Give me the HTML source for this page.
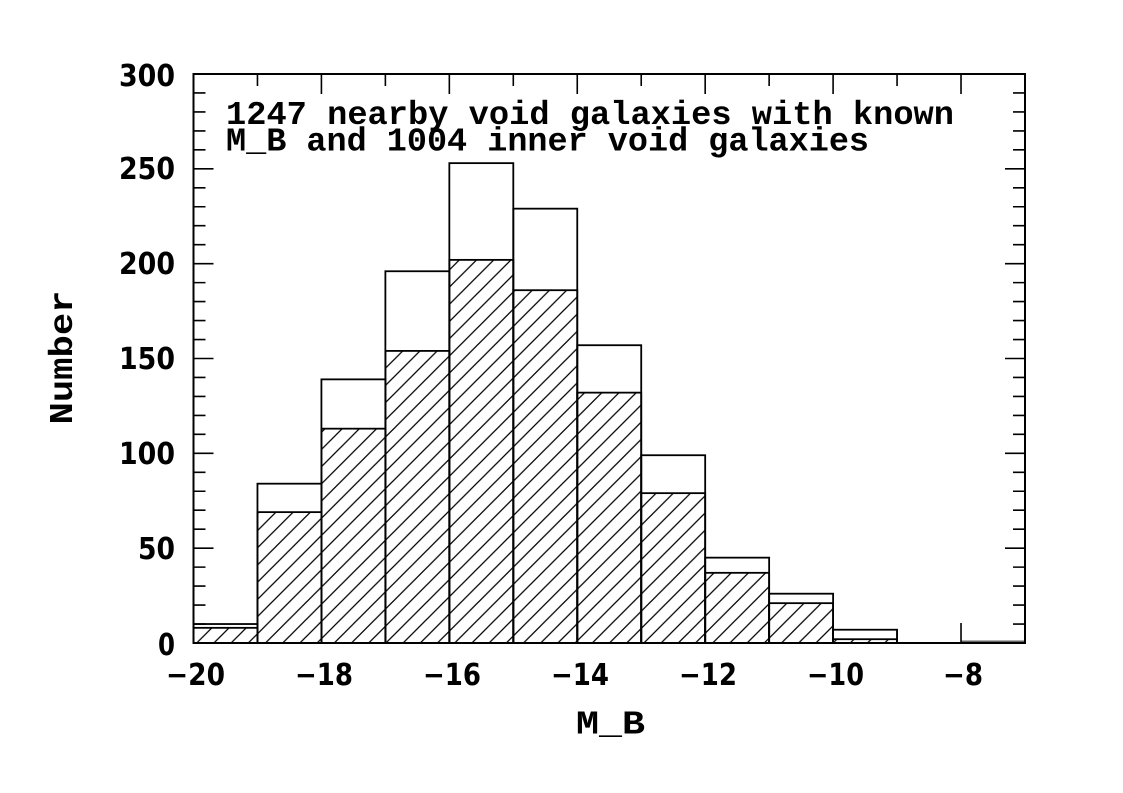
<!DOCTYPE html>
<html><head><meta charset="utf-8"><style>
html,body{margin:0;padding:0;background:#fff;}
svg{display:block;}
</style></head><body>
<svg width="1123" height="793" viewBox="0 0 1123 793" xmlns="http://www.w3.org/2000/svg">
<defs>
<pattern id="h" patternUnits="userSpaceOnUse" x="14.1" y="0" width="17.2" height="17.2">
<path d="M0,17.2 L17.2,0 M-4,4 L4,-4 M13.2,21.2 L21.2,13.2" stroke="#000" stroke-width="1.3" fill="none"/>
</pattern>
</defs>
<rect width="1123" height="793" fill="#fff"/>
<g stroke="#000" stroke-width="1.8" fill="none">
<rect x="193.5" y="624.03" width="63.96" height="18.97"/>
<rect x="257.46" y="483.68" width="63.96" height="159.32"/>
<rect x="321.42" y="379.36" width="63.96" height="263.64"/>
<rect x="385.38" y="271.25" width="63.96" height="371.75"/>
<rect x="449.34" y="163.14" width="63.96" height="479.86"/>
<rect x="513.3" y="208.66" width="63.96" height="434.34"/>
<rect x="577.26" y="345.22" width="63.96" height="297.78"/>
<rect x="641.22" y="455.23" width="63.96" height="187.77"/>
<rect x="705.18" y="557.65" width="63.96" height="85.35"/>
<rect x="769.14" y="593.69" width="63.96" height="49.31"/>
<rect x="833.1" y="629.72" width="63.96" height="13.28"/>
</g>
<g stroke="#000" stroke-width="1.8" fill="url(#h)">
<rect x="193.5" y="627.83" width="63.96" height="15.17"/>
<rect x="257.46" y="512.13" width="63.96" height="130.87"/>
<rect x="321.42" y="428.67" width="63.96" height="214.33"/>
<rect x="385.38" y="350.91" width="63.96" height="292.09"/>
<rect x="449.34" y="259.87" width="63.96" height="383.13"/>
<rect x="513.3" y="290.21" width="63.96" height="352.79"/>
<rect x="577.26" y="392.64" width="63.96" height="250.36"/>
<rect x="641.22" y="493.16" width="63.96" height="149.84"/>
<rect x="705.18" y="572.82" width="63.96" height="70.18"/>
<rect x="769.14" y="603.17" width="63.96" height="39.83"/>
<rect x="833.1" y="639.21" width="63.96" height="3.79"/>
</g>
<rect x="961.02" y="640.5" width="63.96" height="2" fill="#666"/>
<!-- frame -->
<rect x="193.5" y="74" width="831.5" height="569" fill="none" stroke="#000" stroke-width="2"/>
<!-- ticks -->
<g stroke="#000" stroke-width="1.6" fill="none">
<path d="M321.42,643V623 M449.34,643V623 M577.26,643V623 M705.18,643V623 M833.1,643V623 M961.02,643V623
M257.46,643V631 M385.38,643V631 M513.3,643V631 M641.22,643V631 M769.14,643V631 M897.06,643V631
M321.42,74V94 M449.34,74V94 M577.26,74V94 M705.18,74V94 M833.1,74V94 M961.02,74V94
M257.46,74V86 M385.38,74V86 M513.3,74V86 M641.22,74V86 M769.14,74V86 M897.06,74V86"/>
<path d="M193.5,548.17H213.5 M193.5,453.33H213.5 M193.5,358.5H213.5 M193.5,263.67H213.5 M193.5,168.83H213.5
M1025,548.17H1005 M1025,453.33H1005 M1025,358.5H1005 M1025,263.67H1005 M1025,168.83H1005"/>
<path d="M193.5,624.03h12 M193.5,605.07h12 M193.5,586.1h12 M193.5,567.13h12 M193.5,529.2h12 M193.5,510.23h12 M193.5,491.26h12 M193.5,472.3h12 M193.5,434.36h12 M193.5,415.4h12 M193.5,396.43h12 M193.5,377.46h12 M193.5,339.53h12 M193.5,320.56h12 M193.5,301.59h12 M193.5,282.63h12 M193.5,244.69h12 M193.5,225.73h12 M193.5,206.76h12 M193.5,187.79h12 M193.5,149.86h12 M193.5,130.89h12 M193.5,111.92h12 M193.5,92.96h12"/>
<path d="M1025,624.03h-12 M1025,605.07h-12 M1025,586.1h-12 M1025,567.13h-12 M1025,529.2h-12 M1025,510.23h-12 M1025,491.26h-12 M1025,472.3h-12 M1025,434.36h-12 M1025,415.4h-12 M1025,396.43h-12 M1025,377.46h-12 M1025,339.53h-12 M1025,320.56h-12 M1025,301.59h-12 M1025,282.63h-12 M1025,244.69h-12 M1025,225.73h-12 M1025,206.76h-12 M1025,187.79h-12 M1025,149.86h-12 M1025,130.89h-12 M1025,111.92h-12 M1025,92.96h-12"/>
</g>
<!-- y tick labels -->
<g font-family="'DejaVu Sans','Liberation Sans',sans-serif" font-weight="bold" font-size="30" fill="#000" text-anchor="end">
<text x="175" y="655" textLength="17" lengthAdjust="spacingAndGlyphs">0</text>
<text x="175" y="559" textLength="37" lengthAdjust="spacingAndGlyphs">50</text>
<text x="175" y="464" textLength="56" lengthAdjust="spacingAndGlyphs">100</text>
<text x="175" y="369" textLength="56" lengthAdjust="spacingAndGlyphs">150</text>
<text x="175" y="274" textLength="56" lengthAdjust="spacingAndGlyphs">200</text>
<text x="175" y="179" textLength="56" lengthAdjust="spacingAndGlyphs">250</text>
<text x="175" y="86" textLength="56" lengthAdjust="spacingAndGlyphs">300</text>
</g>
<!-- x tick labels -->
<g font-family="'DejaVu Sans','Liberation Sans',sans-serif" font-weight="bold" font-size="30" fill="#000">
<text x="166" y="685" textLength="59" lengthAdjust="spacingAndGlyphs">−20</text>
<text x="295" y="685" textLength="58" lengthAdjust="spacingAndGlyphs">−18</text>
<text x="423" y="685" textLength="58" lengthAdjust="spacingAndGlyphs">−16</text>
<text x="551" y="685" textLength="58" lengthAdjust="spacingAndGlyphs">−14</text>
<text x="679" y="685" textLength="58" lengthAdjust="spacingAndGlyphs">−12</text>
<text x="807" y="685" textLength="57" lengthAdjust="spacingAndGlyphs">−10</text>
<text x="943" y="685" textLength="40" lengthAdjust="spacingAndGlyphs">−8</text>
</g>
<!-- annotation -->
<g font-family="'Liberation Mono',monospace" font-weight="bold" font-size="33" fill="#000">
<text x="226" y="124" textLength="728" lengthAdjust="spacingAndGlyphs">1247 nearby void galaxies with known</text>
<text x="226" y="150.5" textLength="643" lengthAdjust="spacingAndGlyphs">M_B and 1004 inner void galaxies</text>
<text x="576" y="733.5" textLength="69" lengthAdjust="spacingAndGlyphs">M_B</text>
<text transform="translate(72,357.5) rotate(-90)" x="-67" y="0" textLength="134" lengthAdjust="spacingAndGlyphs">Number</text>
</g>
</svg>
</body></html>
